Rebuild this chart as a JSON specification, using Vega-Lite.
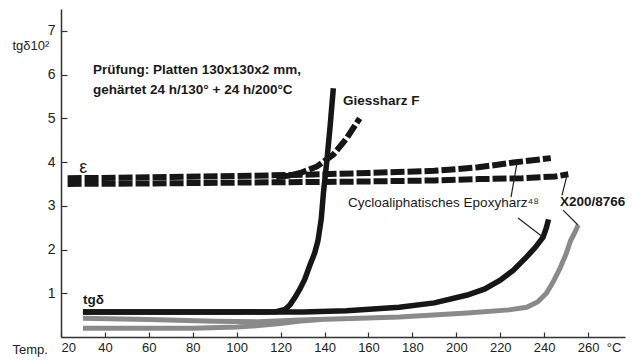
{
  "$schema": "https://vega.github.io/schema/vega-lite/v6.json",
  "width": 564,
  "height": 328,
  "autosize": {"type": "none"},
  "padding": {"left": 61, "top": 9, "right": 8, "bottom": 23},
  "background": "white",
  "config": {
    "view": {"stroke": null},
    "font": "Liberation Sans",
    "axis": {"grid": false, "domainColor": "#333", "domainWidth": 1.5, "tickColor": "#333", "tickWidth": 1.2, "labelColor": "#222", "titleColor": "#222", "labelFont": "Liberation Sans", "titleFont": "Liberation Sans"}
  },
  "datasets": {
    "curves": [
      {"s": "eps_cyclo", "i": 1, "T": 23, "v": 3.63},
      {"s": "eps_cyclo", "i": 2, "T": 60, "v": 3.65},
      {"s": "eps_cyclo", "i": 3, "T": 100, "v": 3.68},
      {"s": "eps_cyclo", "i": 4, "T": 130, "v": 3.71},
      {"s": "eps_cyclo", "i": 5, "T": 160, "v": 3.75},
      {"s": "eps_cyclo", "i": 6, "T": 190, "v": 3.8},
      {"s": "eps_cyclo", "i": 7, "T": 210, "v": 3.88},
      {"s": "eps_cyclo", "i": 8, "T": 226, "v": 3.99},
      {"s": "eps_cyclo", "i": 9, "T": 243, "v": 4.09},
      {"s": "eps_x200", "i": 1, "T": 23, "v": 3.5},
      {"s": "eps_x200", "i": 2, "T": 60, "v": 3.51},
      {"s": "eps_x200", "i": 3, "T": 100, "v": 3.53},
      {"s": "eps_x200", "i": 4, "T": 150, "v": 3.55},
      {"s": "eps_x200", "i": 5, "T": 190, "v": 3.58},
      {"s": "eps_x200", "i": 6, "T": 210, "v": 3.61},
      {"s": "eps_x200", "i": 7, "T": 230, "v": 3.63},
      {"s": "eps_x200", "i": 8, "T": 245, "v": 3.67},
      {"s": "eps_x200", "i": 9, "T": 251, "v": 3.72},
      {"s": "eps_giess", "i": 1, "T": 118, "v": 3.66},
      {"s": "eps_giess", "i": 2, "T": 124, "v": 3.69},
      {"s": "eps_giess", "i": 3, "T": 129, "v": 3.75},
      {"s": "eps_giess", "i": 4, "T": 136.6, "v": 3.9},
      {"s": "eps_giess", "i": 5, "T": 144, "v": 4.17},
      {"s": "eps_giess", "i": 6, "T": 150, "v": 4.54},
      {"s": "eps_giess", "i": 7, "T": 156, "v": 5.0},
      {"s": "tg_x200_low", "i": 1, "T": 30, "v": 0.2},
      {"s": "tg_x200_low", "i": 2, "T": 60, "v": 0.2},
      {"s": "tg_x200_low", "i": 3, "T": 80, "v": 0.2},
      {"s": "tg_x200_low", "i": 4, "T": 100, "v": 0.23},
      {"s": "tg_x200_low", "i": 5, "T": 110, "v": 0.26},
      {"s": "tg_x200_low", "i": 6, "T": 120, "v": 0.31},
      {"s": "tg_x200_low", "i": 7, "T": 128, "v": 0.36},
      {"s": "tg_x200_low", "i": 8, "T": 138, "v": 0.4},
      {"s": "tg_x200", "i": 1, "T": 30, "v": 0.43},
      {"s": "tg_x200", "i": 2, "T": 60, "v": 0.4},
      {"s": "tg_x200", "i": 3, "T": 90, "v": 0.36},
      {"s": "tg_x200", "i": 4, "T": 110, "v": 0.35},
      {"s": "tg_x200", "i": 5, "T": 129, "v": 0.39},
      {"s": "tg_x200", "i": 6, "T": 156, "v": 0.43},
      {"s": "tg_x200", "i": 7, "T": 174, "v": 0.46},
      {"s": "tg_x200", "i": 8, "T": 205, "v": 0.55},
      {"s": "tg_x200", "i": 9, "T": 224, "v": 0.62},
      {"s": "tg_x200", "i": 10, "T": 232, "v": 0.68},
      {"s": "tg_x200", "i": 11, "T": 237, "v": 0.8},
      {"s": "tg_x200", "i": 12, "T": 241, "v": 1.0},
      {"s": "tg_x200", "i": 13, "T": 244, "v": 1.25},
      {"s": "tg_x200", "i": 14, "T": 247, "v": 1.55},
      {"s": "tg_x200", "i": 15, "T": 250, "v": 1.9},
      {"s": "tg_x200", "i": 16, "T": 252, "v": 2.2},
      {"s": "tg_x200", "i": 17, "T": 254, "v": 2.4},
      {"s": "tg_x200", "i": 18, "T": 255.5, "v": 2.56},
      {"s": "tg_cyclo", "i": 1, "T": 30, "v": 0.57},
      {"s": "tg_cyclo", "i": 2, "T": 130, "v": 0.57},
      {"s": "tg_cyclo", "i": 3, "T": 150, "v": 0.6},
      {"s": "tg_cyclo", "i": 4, "T": 174, "v": 0.68},
      {"s": "tg_cyclo", "i": 5, "T": 190, "v": 0.78},
      {"s": "tg_cyclo", "i": 6, "T": 205, "v": 0.96},
      {"s": "tg_cyclo", "i": 7, "T": 213, "v": 1.1},
      {"s": "tg_cyclo", "i": 8, "T": 220, "v": 1.3},
      {"s": "tg_cyclo", "i": 9, "T": 226, "v": 1.53},
      {"s": "tg_cyclo", "i": 10, "T": 232, "v": 1.83},
      {"s": "tg_cyclo", "i": 11, "T": 236, "v": 2.05},
      {"s": "tg_cyclo", "i": 12, "T": 239.5, "v": 2.28},
      {"s": "tg_cyclo", "i": 13, "T": 241, "v": 2.5},
      {"s": "tg_cyclo", "i": 14, "T": 242, "v": 2.69},
      {"s": "tg_giess", "i": 1, "T": 30, "v": 0.57},
      {"s": "tg_giess", "i": 2, "T": 100, "v": 0.57},
      {"s": "tg_giess", "i": 3, "T": 118, "v": 0.58},
      {"s": "tg_giess", "i": 4, "T": 122, "v": 0.63},
      {"s": "tg_giess", "i": 5, "T": 124.3, "v": 0.74},
      {"s": "tg_giess", "i": 6, "T": 126.5, "v": 0.9},
      {"s": "tg_giess", "i": 7, "T": 128.8, "v": 1.1},
      {"s": "tg_giess", "i": 8, "T": 131, "v": 1.32},
      {"s": "tg_giess", "i": 9, "T": 133.4, "v": 1.65},
      {"s": "tg_giess", "i": 10, "T": 135.5, "v": 1.92},
      {"s": "tg_giess", "i": 11, "T": 137, "v": 2.2},
      {"s": "tg_giess", "i": 12, "T": 138.5, "v": 2.7},
      {"s": "tg_giess", "i": 13, "T": 139.5, "v": 3.3},
      {"s": "tg_giess", "i": 14, "T": 141, "v": 4.0},
      {"s": "tg_giess", "i": 15, "T": 142.5, "v": 4.8},
      {"s": "tg_giess", "i": 16, "T": 144, "v": 5.69}
    ],
    "leaders": [
      {"T": 224.9, "v": 3.2, "T2": 227.7, "v2": 4.0},
      {"T": 228.1, "v": 2.72, "T2": 239.5, "v2": 2.28},
      {"T": 248.1, "v": 3.24, "T2": 250.4, "v2": 3.7},
      {"T": 248.6, "v": 2.9, "T2": 255.4, "v2": 2.56}
    ]
  },
  "layer": [
    {
      "data": {"name": "curves"},
      "transform": [{"filter": "indexof(datum.s, 'tg_x200') == 0"}],
      "mark": {"type": "line", "color": "#8a8a8a", "strokeWidth": 5, "strokeCap": "butt"},
      "encoding": {
        "x": {"field": "T", "type": "quantitative", "scale": {"domain": [20, 276.8], "nice": false, "zero": false},
          "axis": {"values": [20, 40, 60, 80, 100, 120, 140, 160, 180, 200, 220, 240, 260], "tickSize": -5, "labelFontSize": 13, "labelPadding": 9, "title": "Temp.", "titleFontSize": 13, "titleFontWeight": "normal", "titleAlign": "left", "titleAnchor": "start", "titleBaseline": "middle", "titleX": -49, "titleY": 12}},
        "y": {"field": "v", "type": "quantitative", "scale": {"domain": [0, 7.5], "nice": false, "zero": true},
          "axis": {"values": [1, 2, 3, 4, 5, 6, 7], "tickSize": -6, "labelFontSize": 14, "labelPadding": 12, "title": "tgδ10²", "titleAngle": 0, "titleFontSize": 13, "titleFontWeight": "normal", "titleAlign": "left", "titleBaseline": "middle", "titleX": -49, "titleY": 36}},
        "detail": {"field": "s"},
        "order": {"field": "i"}
      }
    },
    {
      "data": {"name": "curves"},
      "transform": [{"filter": "datum.s == 'tg_cyclo' || datum.s == 'tg_giess'"}],
      "mark": {"type": "line", "color": "#161616", "strokeWidth": 5.5, "strokeCap": "butt"},
      "encoding": {
        "x": {"field": "T", "type": "quantitative"},
        "y": {"field": "v", "type": "quantitative"},
        "detail": {"field": "s"},
        "order": {"field": "i"}
      }
    },
    {
      "data": {"name": "curves"},
      "transform": [{"filter": "indexof(datum.s, 'eps') == 0"}],
      "mark": {"type": "line", "color": "#161616", "strokeWidth": 6, "strokeDash": [14, 3], "strokeCap": "butt"},
      "encoding": {
        "x": {"field": "T", "type": "quantitative"},
        "y": {"field": "v", "type": "quantitative"},
        "detail": {"field": "s"},
        "order": {"field": "i"}
      }
    },
    {
      "data": {"name": "leaders"},
      "mark": {"type": "rule", "color": "#222", "strokeWidth": 1.2},
      "encoding": {
        "x": {"field": "T", "type": "quantitative"},
        "y": {"field": "v", "type": "quantitative"},
        "x2": {"field": "T2"},
        "y2": {"field": "v2"}
      }
    },
    {
      "data": {"values": [
        {"T": 34.6, "v": 6.1, "label": "Prüfung: Platten 130x130x2 mm,"},
        {"T": 34.6, "v": 5.64, "label": "gehärtet 24 h/130° + 24 h/200°C"},
        {"T": 148.4, "v": 5.39, "label": "Giessharz F"},
        {"T": 247.2, "v": 3.08, "label": "X200/8766"},
        {"T": 30, "v": 0.84, "label": "tgδ"}
      ]},
      "mark": {"type": "text", "align": "left", "baseline": "middle", "fontSize": 13.5, "fontWeight": "bold", "color": "#1a1a1a"},
      "encoding": {
        "x": {"field": "T", "type": "quantitative"},
        "y": {"field": "v", "type": "quantitative"},
        "text": {"field": "label"}
      }
    },
    {
      "data": {"values": [
        {"T": 150.7, "v": 3.06, "label": "Cycloaliphatisches Epoxyharz⁴⁸"}
      ]},
      "mark": {"type": "text", "align": "left", "baseline": "middle", "fontSize": 13.5, "color": "#1a1a1a"},
      "encoding": {
        "x": {"field": "T", "type": "quantitative"},
        "y": {"field": "v", "type": "quantitative"},
        "text": {"field": "label"}
      }
    },
    {
      "data": {"values": [
        {"T": 28.3, "v": 3.86, "label": "ε"}
      ]},
      "mark": {"type": "text", "align": "left", "baseline": "middle", "fontSize": 18, "color": "#1a1a1a"},
      "encoding": {
        "x": {"field": "T", "type": "quantitative"},
        "y": {"field": "v", "type": "quantitative"},
        "text": {"field": "label"}
      }
    },
    {
      "data": {"values": [
        {"T": 268.5, "v": -0.25, "label": "°C"}
      ]},
      "mark": {"type": "text", "align": "left", "baseline": "middle", "fontSize": 13, "color": "#222"},
      "encoding": {
        "x": {"field": "T", "type": "quantitative"},
        "y": {"field": "v", "type": "quantitative"},
        "text": {"field": "label"}
      }
    }
  ]
}
